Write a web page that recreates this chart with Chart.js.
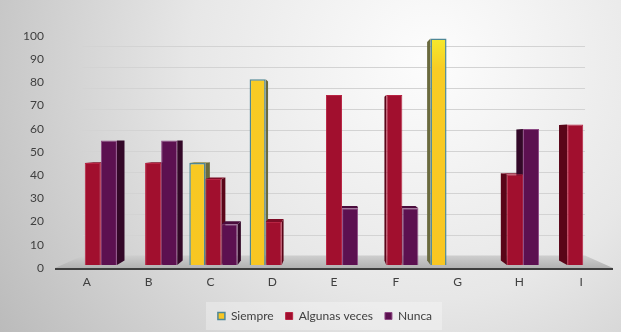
<!DOCTYPE html>
<html>
<head>
<meta charset="utf-8">
<title>Frecuencia por ítem</title>
<script src="https://cdn.jsdelivr.net/npm/chart.js@4/dist/chart.umd.min.js"></script>
<style>
    html, body { margin: 0; padding: 0; background: #d6d6d6; }
    #chart { display: block; }
</style>
</head>
<body>
<canvas id="chart" width="621" height="332"></canvas>
<script>
// Categories and series values (percent)
const categories = ['A', 'B', 'C', 'D', 'E', 'F', 'G', 'H', 'I'];
const siempre = [null, null, 45, 82, null, null, 100, null, null];
const algunasVeces = [45, 45, 38, 19, 75, 75, null, 40, 62];
const nunca = [55, 55, 18, null, 25, 25, null, 60, null];
const yMax = 100;
const yStep = 10;

const FONT = 'Lato, "Open Sans", sans-serif';
const TEXT_COLOR = '#404040';

// Depth of each plane, as a fraction of the way to the vanishing point
const DEPTH = {
    barFront: 0.024,
    barBack: 0.058,
    floorBack: 0.097
};

// Side / top shading for the extruded bars, per dataset
const SHADES = [
    { side: '#6a6a3e', top: '#8c8a4a' },
    { side: '#5a0518', top: '#7e0c26' },
    { side: '#330828', top: '#4a0c3c' }
];

// Legend sits a little right of the canvas centre
const LEGEND_SHIFT = 19;

/**
 * Vanishing point used for the fake 3D look
 */
function vanishing(chart) {
    const a = chart.chartArea;
    return { x: (a.left + a.right) / 2, y: a.top + (a.bottom - a.top) * 0.45 };
}

function project(v, x, y, f) {
    return [x + f * (v.x - x), y + f * (v.y - y)];
}

function fillPoly(ctx, pts, color) {
    ctx.beginPath();
    ctx.moveTo(pts[0][0], pts[0][1]);
    for (let i = 1; i < pts.length; i++) ctx.lineTo(pts[i][0], pts[i][1]);
    ctx.closePath();
    ctx.fillStyle = color;
    ctx.fill();
}

/**
 * Yellow fill that brightens near the top of the plot
 */
function yellowFill(context) {
    const chart = context.chart;
    const a = chart.chartArea;
    if (!a) return '#f8c824';
    const grad = chart.ctx.createLinearGradient(0, a.top, 0, a.bottom);
    grad.addColorStop(0, '#f5ec2c');
    grad.addColorStop(0.14, '#f8cc24');
    grad.addColorStop(1, '#f8c622');
    return grad;
}

// Backdrop, legend panel, back wall, floor and bar extrusion
const scenePlugin = {
    id: 'scene',

    afterLayout(chart) {
        const legend = chart.legend;
        if (!legend) return;
        legend.left += LEGEND_SHIFT;
        legend.right += LEGEND_SHIFT;
        (legend.legendHitBoxes || []).forEach(b => { b.left += LEGEND_SHIFT; });
    },

    beforeDraw(chart) {
        const { ctx, width, height } = chart;
        ctx.save();
        const bg = ctx.createRadialGradient(430, 60, 10, 430, 60, 520);
        bg.addColorStop(0, '#fcfcfc');
        bg.addColorStop(0.45, '#e7e7e7');
        bg.addColorStop(1, '#b9b9b9');
        ctx.fillStyle = bg;
        ctx.fillRect(0, 0, width, height);

        // Light panel behind the legend
        const boxes = chart.legend && chart.legend.legendHitBoxes;
        if (boxes && boxes.length) {
            const first = boxes[0];
            const last = boxes[boxes.length - 1];
            const cy = first.top + first.height / 2;
            ctx.fillStyle = 'rgba(255, 255, 255, 0.3)';
            ctx.fillRect(first.left - 12, cy - 14, last.left + last.width - first.left + 22, 28);
        }
        ctx.restore();
    },

    // Push bars back onto their own depth plane
    afterDatasetsUpdate(chart) {
        const v = vanishing(chart);
        const f = DEPTH.barFront;
        chart.data.datasets.forEach((ds, i) => {
            chart.getDatasetMeta(i).data.forEach(bar => {
                if (isNaN(bar.y) || isNaN(bar.base)) return;
                const l = bar.x - bar.width / 2;
                const r = bar.x + bar.width / 2;
                const [l2, top2] = project(v, l, bar.y, f);
                const [r2] = project(v, r, bar.y, f);
                const [, base2] = project(v, l, bar.base, f);
                bar.x = (l2 + r2) / 2;
                bar.width = r2 - l2;
                bar.y = top2;
                bar.base = base2;
            });
        });
    },

    beforeDatasetsDraw(chart) {
        const { ctx, chartArea: a } = chart;
        const yScale = chart.scales.y;
        const v = vanishing(chart);
        const fb = DEPTH.floorBack;
        ctx.save();

        // Gridlines sit on the back wall
        ctx.strokeStyle = '#d3d3d3';
        ctx.lineWidth = 1;
        for (let val = yStep; val <= yMax; val += yStep) {
            const y = yScale.getPixelForValue(val);
            const p1 = project(v, a.left, y, fb);
            const p2 = project(v, a.right, y, fb);
            ctx.beginPath();
            ctx.moveTo(p1[0], Math.round(p1[1]) + 0.5);
            ctx.lineTo(p2[0], Math.round(p1[1]) + 0.5);
            ctx.stroke();
        }

        // Floor
        const fl = [a.left - 1, a.bottom];
        const fr = [a.right + 1, a.bottom];
        const floorGrad = ctx.createLinearGradient(0, a.bottom - 12, 0, a.bottom);
        floorGrad.addColorStop(0, '#cdcdcd');
        floorGrad.addColorStop(1, '#b2b2b2');
        fillPoly(ctx, [fl, fr, project(v, a.right, a.bottom, fb), project(v, a.left, a.bottom, fb)], floorGrad);

        ctx.strokeStyle = '#3e3e3e';
        ctx.lineWidth = 2;
        ctx.beginPath();
        ctx.moveTo(a.left - 1, a.bottom + 1);
        ctx.lineTo(a.right + 1, a.bottom + 1);
        ctx.stroke();

        // Side and top faces, drawn before the fronts so neighbours cover them
        const g = 1 - (1 - DEPTH.barBack) / (1 - DEPTH.barFront);
        chart.data.datasets.forEach((ds, i) => {
            const shade = SHADES[i];
            chart.getDatasetMeta(i).data.forEach((bar, j) => {
                if (ds.data[j] == null || isNaN(bar.y) || isNaN(bar.base)) return;
                const l = bar.x - bar.width / 2;
                const r = bar.x + bar.width / 2;
                const top = bar.y;
                const base = bar.base;
                if (bar.x < v.x - 2) {
                    fillPoly(ctx, [[r, top], [r, base], project(v, r, base, g), project(v, r, top, g)], shade.side);
                } else if (bar.x > v.x + 2) {
                    fillPoly(ctx, [[l, top], [l, base], project(v, l, base, g), project(v, l, top, g)], shade.side);
                }
                if (top > v.y) {
                    fillPoly(ctx, [[l, top], [r, top], project(v, r, top, g), project(v, l, top, g)], shade.top);
                }
            });
        });
        ctx.restore();
    }
};

const ctx = document.getElementById('chart');

new Chart(ctx, {
    type: 'bar',
    data: {
        labels: categories,
        datasets: [
            {
                label: 'Siempre',
                data: siempre,
                backgroundColor: yellowFill,
                borderColor: '#4e8796',
                borderWidth: 1.5
            },
            {
                label: 'Algunas veces',
                data: algunasVeces,
                backgroundColor: '#a10f2e',
                borderColor: '#b82443',
                borderWidth: 1
            },
            {
                label: 'Nunca',
                data: nunca,
                backgroundColor: '#5c1050',
                borderColor: '#8d4a84',
                borderWidth: 1
            }
        ]
    },
    options: {
        responsive: false,
        animation: false,
        events: [],
        layout: {
            padding: { top: 36, right: 9, bottom: 0, left: 0 }
        },
        datasets: {
            bar: {
                categoryPercentage: 0.8,
                barPercentage: 1.0
            }
        },
        plugins: {
            tooltip: { enabled: false },
            legend: {
                position: 'bottom',
                labels: {
                    boxWidth: 7,
                    boxHeight: 7,
                    padding: 12,
                    color: TEXT_COLOR,
                    font: { family: FONT, size: 12 }
                }
            }
        },
        scales: {
            x: {
                grid: { display: false, drawTicks: false },
                border: { display: false },
                ticks: {
                    padding: 7,
                    color: TEXT_COLOR,
                    font: { family: FONT, size: 12 }
                },
                afterFit(scale) {
                    scale.height = 30;
                }
            },
            y: {
                min: 0,
                max: yMax,
                grid: { display: false, drawTicks: false },
                border: { display: false },
                ticks: {
                    stepSize: yStep,
                    padding: 12,
                    color: TEXT_COLOR,
                    font: { family: FONT, size: 12 }
                },
                afterFit(scale) {
                    scale.width = 56;
                }
            }
        }
    },
    plugins: [scenePlugin]
});
</script>
</body>
</html>
